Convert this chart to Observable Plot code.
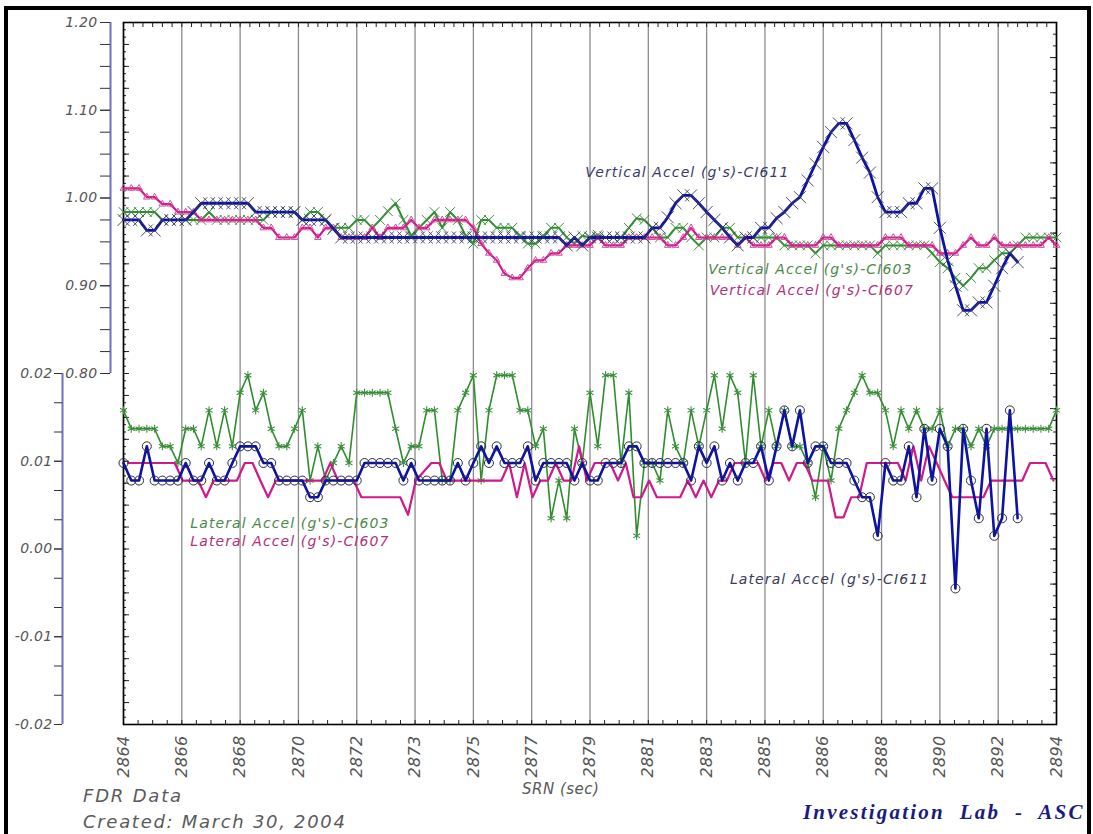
<!DOCTYPE html>
<html>
<head>
<meta charset="utf-8">
<script src="https://cdn.jsdelivr.net/npm/d3@7"></script>
<script src="https://cdn.jsdelivr.net/npm/@observablehq/plot@0.6"></script>
<style>
  html, body { margin: 0; padding: 0; background: #fff; width: 1093px; height: 834px; overflow: hidden; }
  #wrap { position: relative; width: 1093px; height: 834px; }
  #chart { position: absolute; left: 0; top: 0; }
  #border { position: absolute; left: 4px; top: 6px; width: 1087px; height: 900px; border: 4px solid #000; border-bottom: none; box-sizing: border-box; pointer-events: none; }
  .cap { position: absolute; font-family: "DejaVu Sans", sans-serif; font-style: italic; color: #5a5a5a; white-space: pre; line-height: 1; }
  #lab { position: absolute; left: 803px; top: 802px; font-family: "Liberation Serif", serif; font-weight: bold; font-style: italic; font-size: 21px; color: #1a1a80; letter-spacing: 2.2px; white-space: pre; line-height: 1; }
</style>
</head>
<body>
<div id="wrap">
  <div id="chart"></div>
  <div id="border"></div>
  <div class="cap" style="left:83px; top:787px; font-size:18px; letter-spacing:1.8px; font-weight:200;">FDR Data</div>
  <div class="cap" style="left:83px; top:813px; font-size:18px; letter-spacing:1.7px; font-weight:200;">Created: March 30, 2004</div>
  <div class="cap" style="left:522px; top:782px; font-size:15px; letter-spacing:0.5px; font-weight:200;">SRN (sec)</div>
  <div id="lab">Investigation  Lab  -  ASC</div>
</div>
<script>
// ---------------- data ----------------
const STEP = 0.25;               // sample interval (s)
const START_MAIN = 2864;         // first sample of most series
const START_LAT607 = 2864.15;    // lateral CI607 sampled with an offset

// Vertical accel (g) - upper panel, left axis 0.80..1.20
const vertical611 = [
  0.975,0.975,0.975,0.963,0.963,0.975,0.975,0.975,0.975,0.984,
  0.994,0.994,0.994,0.994,0.994,0.994,0.994,0.984,0.984,0.984,
  0.984,0.984,0.984,0.975,0.975,0.975,0.975,0.965,0.955,0.955,
  0.955,0.955,0.955,0.955,0.955,0.955,0.955,0.955,0.955,0.955,
  0.955,0.955,0.955,0.955,0.955,0.955,0.955,0.955,0.955,0.955,
  0.955,0.955,0.955,0.955,0.955,0.955,0.955,0.946,0.955,0.946,
  0.955,0.955,0.955,0.955,0.955,0.955,0.955,0.955,0.966,0.966,
  0.978,0.994,1.003,1.003,0.994,0.984,0.975,0.966,0.955,0.946,
  0.955,0.955,0.966,0.966,0.977,0.984,0.994,1.001,1.020,1.039,
  1.058,1.075,1.085,1.085,1.066,1.046,1.029,1.001,0.984,0.984,
  0.984,0.994,0.994,1.011,1.011,0.966,0.929,0.900,0.872,0.872,
  0.881,0.881,0.900,0.920,0.937,0.927
];
const vertical603 = [
  0.984,0.984,0.984,0.984,0.984,0.975,0.975,0.975,0.975,0.975,
  0.975,0.984,0.975,0.975,0.975,0.975,0.975,0.975,0.975,0.984,
  0.984,0.984,0.984,0.975,0.984,0.984,0.975,0.966,0.966,0.966,
  0.975,0.975,0.966,0.975,0.985,0.994,0.975,0.957,0.966,0.975,
  0.984,0.966,0.984,0.975,0.957,0.948,0.975,0.975,0.966,0.966,
  0.966,0.957,0.948,0.948,0.957,0.966,0.966,0.955,0.948,0.957,
  0.955,0.958,0.955,0.955,0.955,0.966,0.977,0.975,0.966,0.955,
  0.955,0.966,0.966,0.955,0.946,0.955,0.955,0.966,0.966,0.955,
  0.955,0.955,0.955,0.955,0.955,0.946,0.946,0.946,0.946,0.937,
  0.946,0.946,0.946,0.946,0.946,0.946,0.946,0.937,0.946,0.946,
  0.946,0.946,0.946,0.946,0.937,0.927,0.920,0.909,0.900,0.909,
  0.920,0.920,0.929,0.937,0.937,0.946,0.955,0.955,0.955,0.955,
  0.955
];
const vertical607 = [
  1.011,1.011,1.011,1.001,1.001,0.993,0.993,0.984,0.984,0.984,
  0.975,0.975,0.975,0.975,0.975,0.975,0.975,0.975,0.966,0.966,
  0.955,0.955,0.955,0.966,0.966,0.955,0.966,0.966,0.955,0.955,
  0.955,0.955,0.966,0.955,0.966,0.966,0.966,0.975,0.966,0.966,
  0.975,0.975,0.975,0.975,0.975,0.966,0.948,0.937,0.929,0.914,
  0.909,0.909,0.920,0.929,0.929,0.937,0.937,0.946,0.946,0.946,
  0.946,0.955,0.946,0.946,0.946,0.955,0.955,0.955,0.955,0.955,
  0.946,0.946,0.955,0.966,0.955,0.955,0.955,0.955,0.955,0.946,
  0.955,0.946,0.946,0.946,0.955,0.955,0.946,0.946,0.946,0.946,
  0.955,0.955,0.946,0.946,0.946,0.946,0.946,0.946,0.955,0.955,
  0.955,0.946,0.946,0.946,0.946,0.937,0.937,0.937,0.946,0.955,
  0.946,0.946,0.955,0.946,0.946,0.946,0.946,0.946,0.946,0.955,
  0.946
];

// Lateral accel (g) - lower panel, left axis -0.02..0.02
const lateral611 = [
  0.0098,0.0078,0.0078,0.0117,0.0078,0.0078,0.0078,0.0078,0.0098,0.0078,
  0.0078,0.0098,0.0078,0.0078,0.0098,0.0117,0.0117,0.0117,0.0098,0.0098,
  0.0078,0.0078,0.0078,0.0078,0.0059,0.0059,0.0078,0.0078,0.0078,0.0078,
  0.0078,0.0098,0.0098,0.0098,0.0098,0.0098,0.0078,0.0098,0.0078,0.0078,
  0.0078,0.0078,0.0078,0.0098,0.0078,0.0098,0.0117,0.0098,0.0117,0.0098,
  0.0098,0.0098,0.0117,0.0078,0.0098,0.0098,0.0098,0.0098,0.0078,0.0098,
  0.0078,0.0078,0.0098,0.0098,0.0098,0.0117,0.0117,0.0098,0.0098,0.0098,
  0.0098,0.0098,0.0098,0.0078,0.0117,0.0098,0.0117,0.0078,0.0098,0.0078,
  0.0098,0.0098,0.0117,0.0078,0.0117,0.0158,0.0117,0.0158,0.0098,0.0117,
  0.0117,0.0098,0.0098,0.0098,0.0078,0.0059,0.0059,0.0015,0.0098,0.0078,
  0.0078,0.0117,0.0059,0.0137,0.0078,0.0137,0.0117,-0.0045,0.0137,0.0078,
  0.0035,0.0137,0.0015,0.0035,0.0158,0.0035
];
const lateral603 = [
  0.0158,0.0137,0.0137,0.0137,0.0137,0.0117,0.0117,0.0098,0.0137,0.0137,
  0.0117,0.0158,0.0117,0.0158,0.0117,0.0178,0.0198,0.0158,0.0178,0.0137,
  0.0117,0.0117,0.0137,0.0158,0.0078,0.0117,0.0078,0.0098,0.0117,0.0098,
  0.0178,0.0178,0.0178,0.0178,0.0178,0.0137,0.0098,0.0117,0.0117,0.0158,
  0.0158,0.0078,0.0078,0.0158,0.0178,0.0198,0.0078,0.0158,0.0198,0.0198,
  0.0198,0.0158,0.0158,0.0117,0.0137,0.0035,0.0078,0.0035,0.0137,0.0098,
  0.0178,0.0117,0.0198,0.0198,0.0098,0.0178,0.0015,0.0098,0.0098,0.0078,
  0.0158,0.0117,0.0098,0.0158,0.0117,0.0158,0.0198,0.0137,0.0198,0.0178,
  0.0098,0.0198,0.0117,0.0158,0.0117,0.0158,0.0117,0.0117,0.0098,0.0059,
  0.0117,0.0078,0.0137,0.0158,0.0178,0.0198,0.0178,0.0178,0.0158,0.0117,
  0.0158,0.0137,0.0158,0.0137,0.0137,0.0158,0.0117,0.0137,0.0137,0.0117,
  0.0137,0.0117,0.0137,0.0137,0.0137,0.0137,0.0137,0.0137,0.0137,0.0137,
  0.0158
];
const lateral607 = [
  0.0098,0.0098,0.0098,0.0098,0.0098,0.0098,0.0098,0.0078,0.0078,0.0078,
  0.0059,0.0078,0.0078,0.0078,0.0078,0.0098,0.0098,0.0078,0.0059,0.0078,
  0.0078,0.0078,0.0078,0.0078,0.0078,0.0078,0.0098,0.0078,0.0078,0.0078,
  0.0059,0.0059,0.0059,0.0059,0.0059,0.0059,0.0039,0.0078,0.0088,0.0098,
  0.0098,0.0078,0.0078,0.0078,0.0078,0.0078,0.0078,0.0078,0.0078,0.0098,
  0.0059,0.0098,0.0059,0.0078,0.0078,0.0098,0.0078,0.0078,0.0117,0.0078,
  0.0098,0.0098,0.0098,0.0078,0.0098,0.0059,0.0059,0.0078,0.0059,0.0059,
  0.0059,0.0059,0.0078,0.0059,0.0078,0.0059,0.0078,0.0078,0.0098,0.0098,
  0.0098,0.0098,0.0078,0.0098,0.0098,0.0078,0.0098,0.0098,0.0078,0.0078,
  0.0078,0.0036,0.0036,0.0059,0.0059,0.0098,0.0098,0.0098,0.0098,0.0098,
  0.0078,0.0117,0.0078,0.0117,0.0098,0.0078,0.0059,0.0059,0.0059,0.0059,
  0.0059,0.0078,0.0078,0.0078,0.0078,0.0078,0.0098,0.0098,0.0098,0.0078
];

// Axes
const xTickValues = [2864, 2865.875, 2867.75, 2869.625, 2871.5, 2873.375, 2875.25, 2877.125, 2879,
                     2880.875, 2882.75, 2884.625, 2886.5, 2888.375, 2890.25, 2892.125, 2894];
const xTickLabels = ["2864","2866","2868","2870","2872","2873","2875","2877","2879",
                     "2881","2883","2885","2886","2888","2890","2892","2894"];
const upperTickValues = [0.80, 0.90, 1.00, 1.10, 1.20];
const upperTickLabels = ["0.80", "0.90", "1.00", "1.10", "1.20"];
const lowerTickValues = [-0.02, -0.01, 0.00, 0.01, 0.02];
const lowerTickLabels = ["-0.02", "-0.01", "0.00", "0.01", "0.02"];

// Series labels
const labelTexts  = ["Vertical Accel (g's)-CI611", "Vertical Accel (g's)-CI603", "Vertical Accel (g's)-CI607",
                     "Lateral Accel (g's)-CI603", "Lateral Accel (g's)-CI607", "Lateral Accel (g's)-CI611"];
const labelTimes  = [2878.85, 2882.8, 2882.85, 2866.15, 2866.15, 2883.5];
const labelValues = [1.029, 0.9185, 0.8946, 0.0029, 0.00085, -0.0035];
const labelPanels = ["upper", "upper", "upper", "lower", "lower", "lower"];
const labelColors = ["#3a3a6a", "#4a8a4a", "#b0307a", "#4a8a4a", "#b0307a", "#3a3a5a"];

// ---------------- build ----------------
// upper panel (0.80..1.20) shares the frame with the lower panel (-0.02..0.02)
const toLower = v => 0.02 + (v - 0.8) * 0.1;
const series = (start, vals, conv) => vals.map((v, i) => ({t: start + i * STEP, val: conv ? conv(v) : v}));

const va611 = series(START_MAIN, vertical611, toLower);
const va603 = series(START_MAIN, vertical603, toLower);
const va607 = series(START_MAIN, vertical607, toLower);
const la611 = series(START_MAIN, lateral611);
const la603 = series(START_MAIN, lateral603);
const la607 = series(START_LAT607, lateral607);

const labels = labelTexts.map((text, i) => ({
  text, t: labelTimes[i],
  val: labelPanels[i] === "upper" ? toLower(labelValues[i]) : labelValues[i],
  color: labelColors[i]
}));

const key = d => (+d).toFixed(5);
const xLabelMap = new Map(xTickValues.map((v, i) => [key(v), xTickLabels[i]]));
const upperMap = new Map(upperTickValues.map((v, i) => [key(toLower(v)), upperTickLabels[i]]));
const lowerMap = new Map(lowerTickValues.map((v, i) => [key(v), lowerTickLabels[i]]));

// tick positions (axis decoration)
const upperMinor = d3.range(0, 17).map(k => toLower(0.8 + k * 0.025));
const lowerMinor = d3.range(0, 13).map(k => -0.02 + k * 0.04 / 12);
const frameMinor = d3.range(0, 97).map(k => -0.02 + k * 0.08 / 96);
const frameMid = d3.range(0, 33).map(k => -0.02 + k * 0.08 / 32);
const rightMinor = d3.range(0, 61).map(k => -0.02 + k * 0.08 / 60);
const rightMid = d3.range(0, 21).map(k => -0.02 + k * 0.08 / 20);
const bottomMinor = d3.range(0, 65).map(k => 2864 + k * 30 / 64);
const topMinor = d3.range(0, 97).map(k => 2864 + k * 30 / 96);

const BLUE = "#0c12a2", GREEN = "#2f8c2f", MAGENTA = "#d0198a";
const tickFont = {fontFamily: "DejaVu Sans, sans-serif", fontStyle: "italic", fontWeight: 200, fill: "#555"};

const plot = Plot.plot({
  width: 1093,
  height: 834,
  marginLeft: 123,
  marginRight: 37,
  marginTop: 22,
  marginBottom: 110,
  x: {domain: [2864, 2894], label: null},
  y: {domain: [-0.02, 0.06], label: null},
  style: {background: "transparent", fontFamily: "DejaVu Sans, sans-serif"},
  marks: [
    Plot.gridX(xTickValues, {stroke: "#8c8c8c", strokeOpacity: 1, strokeWidth: 1.3}),

    // inner frame ticks
    Plot.axisY(frameMinor, {anchor: "left", tickSize: -3, fill: "none", stroke: "#222", label: null}),
    Plot.axisY(frameMid, {anchor: "left", tickSize: -6, fill: "none", stroke: "#222", label: null}),
    Plot.axisY(rightMinor, {anchor: "right", tickSize: -4, fill: "none", stroke: "#222", label: null}),
    Plot.axisY(rightMid, {anchor: "right", tickSize: -7, fill: "none", stroke: "#222", label: null}),
    Plot.axisX(bottomMinor, {anchor: "bottom", tickSize: -4, fill: "none", stroke: "#222", label: null}),
    Plot.axisX(topMinor, {anchor: "top", tickSize: -4, fill: "none", stroke: "#222", label: null}),

    // x tick labels (rotated)
    Plot.axisX(xTickValues, {anchor: "bottom", tickSize: 0, tickPadding: 11, tickRotate: -90,
      tickFormat: d => xLabelMap.get(key(d)), fontSize: 16, label: null, ...tickFont}),

    // upper (vertical accel) axis
    Plot.ruleX([2864], {y1: toLower(0.8), y2: toLower(1.2), dx: -13, stroke: "#6e6ec4", strokeWidth: 2}),
    Plot.axisY(upperMinor, {anchor: "left", dx: -13, tickSize: 10, fill: "none", stroke: "#333", label: null}),
    Plot.axisY(upperTickValues.map(toLower), {anchor: "left", dx: -13, tickSize: 10, tickPadding: 3,
      tickFormat: d => upperMap.get(key(d)), fontSize: 14, stroke: "#333", label: null, ...tickFont}),

    // lower (lateral accel) axis
    Plot.ruleX([2864], {y1: -0.02, y2: 0.02, dx: -61, stroke: "#6e6ec4", strokeWidth: 2}),
    Plot.axisY(lowerMinor, {anchor: "left", dx: -61, tickSize: 8, fill: "none", stroke: "#333", label: null}),
    Plot.axisY(lowerTickValues, {anchor: "left", dx: -61, tickSize: 8, tickPadding: 2,
      tickFormat: d => lowerMap.get(key(d)), fontSize: 14, stroke: "#333", label: null, ...tickFont}),

    Plot.frame({stroke: "#000", strokeWidth: 1.6}),

    // vertical accel series
    Plot.line(va603, {x: "t", y: "val", stroke: GREEN, strokeWidth: 2}),
    Plot.dot(va603, {x: "t", y: "val", symbol: "times", r: 4.5, stroke: "#3f8f3f", strokeWidth: 1}),
    Plot.line(va607, {x: "t", y: "val", stroke: MAGENTA, strokeWidth: 2.2}),
    Plot.dot(va607, {x: "t", y: "val", symbol: "triangle2", r: 3.2, stroke: "#d04a9a", strokeWidth: 1}),
    Plot.line(va611, {x: "t", y: "val", stroke: BLUE, strokeWidth: 2.8}),
    Plot.dot(va611, {x: "t", y: "val", symbol: "times", r: 5.5, stroke: "#3c3c60", strokeWidth: 0.9}),

    // lateral accel series
    Plot.line(la603, {x: "t", y: "val", stroke: GREEN, strokeWidth: 1.6}),
    Plot.dot(la603, {x: "t", y: "val", symbol: "asterisk", r: 3.8, stroke: "#3f8f3f", strokeWidth: 1.1}),
    Plot.line(la607, {x: "t", y: "val", stroke: MAGENTA, strokeWidth: 2.2}),
    Plot.line(la611, {x: "t", y: "val", stroke: BLUE, strokeWidth: 2.6}),
    Plot.dot(la611, {x: "t", y: "val", symbol: "circle", r: 4.5, fill: "none", stroke: "#2c2c48", strokeWidth: 1}),

    // series labels
    Plot.text(labels, {x: "t", y: "val", text: "text", fill: "color", textAnchor: "start",
      fontSize: 14, fontStyle: "italic", fontWeight: 200, fontFamily: "DejaVu Sans, sans-serif"})
  ]
});

plot.style.letterSpacing = "0.3px";
// wider letter spacing on the series labels, like the original plotter font
plot.querySelectorAll('g[aria-label="text"] text').forEach(t => { t.style.letterSpacing = "1.1px"; });
document.getElementById("chart").appendChild(plot);
</script>
</body>
</html>
